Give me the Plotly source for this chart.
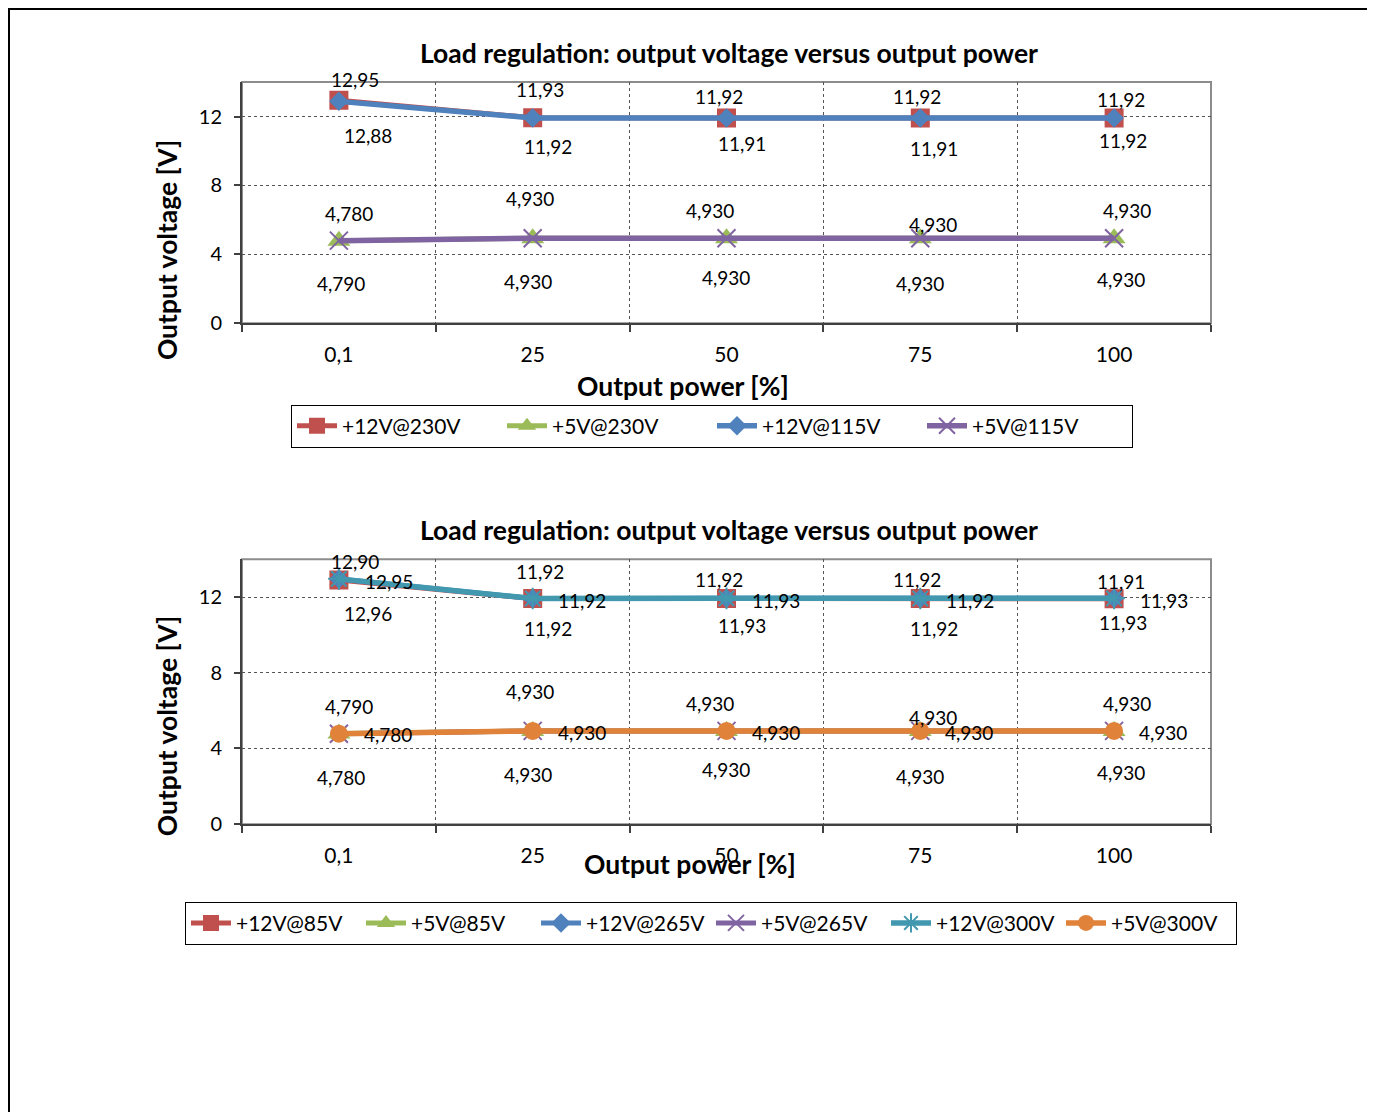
import plotly.graph_objects as go

categories = ["0,1", "25", "50", "75", "100"]

# Top chart series
v12_230 = [12.95, 11.93, 11.92, 11.92, 11.92]
v5_230 = [4.78, 4.93, 4.93, 4.93, 4.93]
v12_115 = [12.88, 11.92, 11.91, 11.91, 11.92]
v5_115 = [4.79, 4.93, 4.93, 4.93, 4.93]

# Bottom chart series
v12_85 = [12.90, 11.92, 11.92, 11.92, 11.91]
v5_85 = [4.79, 4.93, 4.93, 4.93, 4.93]
v12_265 = [12.95, 11.92, 11.93, 11.92, 11.93]
v5_265 = [4.78, 4.93, 4.93, 4.93, 4.93]
v12_300 = [12.96, 11.92, 11.93, 11.92, 11.93]
v5_300 = [4.78, 4.93, 4.93, 4.93, 4.93]

title_text = "Load regulation: output voltage versus output power"
x_title = "Output power [%]"
y_title = "Output voltage [V]"

FONT = "Lato"
RED = "#C0504D"
GREEN = "#9BBB59"
BLUE = "#4F81BD"
PURPLE = "#8064A2"
AQUA = "#4198AF"
ORANGE = "#E0823A"

# page offset (browser body margin) and vertical compensation
OFF = 8
SY = 0.99
W, H = 1367, 1120


def px_x(p):
    return (p - OFF) / W


def px_y(p):
    return 1 - (p / SY - OFF) / H


# label offsets (pixels) per series: (dx, dy up)
top_offsets = {
    "+12V@230V": ([16, 7, -8, -3, 7], [21, 28, 21, 21, 18]),
    "+5V@230V": ([10, -3, -17, 13, 13], [27, 40, 28, 14, 28]),
    "+12V@115V": ([29, 15, 15, 14, 9], [-34, -29, -25, -30, -23]),
    "+5V@115V": ([2, -5, -1, 0, 7], [-43, -43, -39, -45, -41]),
}
bot_offsets = {
    "+12V@85V": ([16, 7, -8, -3, 7], [19, 27, 19, 19, 17]),
    "+5V@85V": ([10, -3, -17, 13, 13], [27, 39, 27, 13, 27]),
    "+12V@265V": ([50, 49, 49, 50, 50], [-2, -2, -2, -2, -2]),
    "+5V@265V": ([49, 49, 49, 49, 49], [-1, -2, -2, -2, -2]),
    "+12V@300V": ([29, 15, 15, 14, 9], [-35, -30, -27, -30, -24]),
    "+5V@300V": ([2, -5, -1, 0, 7], [-44, -44, -39, -46, -42]),
}

mk_square = dict(symbol="square", size=19, color=RED)
mk_tri = dict(symbol="triangle-up", size=20, color=GREEN)
mk_diam = dict(symbol="diamond", size=15, color=BLUE)
mk_x = dict(symbol="x-thin-open", size=18, color=PURPLE, line=dict(width=2, color=PURPLE))
mk_ast = dict(symbol="asterisk-open", size=18, color=AQUA, line=dict(width=2, color=AQUA))
mk_circ = dict(symbol="circle", size=18, color=ORANGE)

series_top = [
    ("+12V@230V", v12_230, RED, mk_square, 5),
    ("+5V@230V", v5_230, GREEN, mk_tri, 5),
    ("+12V@115V", v12_115, BLUE, mk_diam, 5.5),
    ("+5V@115V", v5_115, PURPLE, mk_x, 5.5),
]
series_bot = [
    ("+12V@85V", v12_85, RED, mk_square, 5),
    ("+5V@85V", v5_85, GREEN, mk_tri, 5),
    ("+12V@265V", v12_265, BLUE, mk_diam, 5),
    ("+5V@265V", v5_265, PURPLE, mk_x, 5),
    ("+12V@300V", v12_300, AQUA, mk_ast, 5.5),
    ("+5V@300V", v5_300, ORANGE, mk_circ, 5.5),
]


def fmt(name, v):
    if name.startswith("+5V"):
        return f"{v:.3f}".replace(".", ",")
    return f"{v:.2f}".replace(".", ",")


fig = go.Figure()
annotations = []
LABEL_SIZE = 19

for group, xa, ya, leg, offs in [(series_top, "x", "y", "legend", top_offsets),
                                  (series_bot, "x2", "y2", "legend2", bot_offsets)]:
    for name, vals, col, mk, lw in group:
        fig.add_trace(go.Scatter(x=categories, y=vals, name=name, mode="lines+markers",
                                 line=dict(color=col, width=lw), marker=mk,
                                 xaxis=xa, yaxis=ya, legend=leg))
        o = offs[name]
        for i, v in enumerate(vals):
            annotations.append(dict(x=i, y=v, xref=xa, yref=ya, text=fmt(name, v),
                                    showarrow=False, xshift=o[0][i], yshift=o[1][i],
                                    font=dict(family=FONT, size=LABEL_SIZE, color="black")))

BOLD = 26.5
for ty, xty, xtx in [(53, 386, 683), (530, 864, 690)]:
    annotations.append(dict(x=px_x(729), y=px_y(ty), xref="paper", yref="paper",
                            text="<b>" + title_text + "</b>", showarrow=False,
                            xanchor="center", yanchor="middle",
                            font=dict(family=FONT, size=BOLD, color="black")))
    annotations.append(dict(x=px_x(xtx), y=px_y(xty), xref="paper", yref="paper",
                            text="<b>" + x_title + "</b>", showarrow=False,
                            xanchor="center", yanchor="middle",
                            font=dict(family=FONT, size=BOLD, color="black")))
for yc in [250, 726]:
    annotations.append(dict(x=px_x(167), y=px_y(yc), xref="paper", yref="paper",
                            text="<b>" + y_title + "</b>", showarrow=False,
                            xanchor="center", yanchor="middle", textangle=-90,
                            font=dict(family=FONT, size=BOLD, color="black")))

xdom = [px_x(242), px_x(1211)]
common_x = dict(type="category", categoryorder="array", categoryarray=categories,
                tickson="boundaries", showgrid=True, gridcolor="#555555", griddash="dot", gridwidth=1,
                showline=True, linecolor="#404040", linewidth=2, ticks="outside", ticklen=7,
                tickcolor="#404040", tickwidth=2, tickfont=dict(family=FONT, size=21, color="black"),
                ticklabelstandoff=12, range=[-0.5, 4.5], zeroline=False)
common_y = dict(range=[0, 14], tickvals=[0, 4, 8, 12], showgrid=True, gridcolor="#555555",
                griddash="dot", gridwidth=1, showline=True, linecolor="#404040", linewidth=2,
                ticks="outside", ticklen=6, tickcolor="#404040", tickwidth=2,
                tickfont=dict(family=FONT, size=20, color="black"), zeroline=False,
                ticklabelstandoff=8)

shapes = [
    dict(type="rect", xref="paper", yref="paper", x0=px_x(9), x1=px_x(1368), y0=-0.05, y1=0.999,
         line=dict(color="black", width=2), fillcolor="rgba(0,0,0,0)"),
    dict(type="rect", xref="x domain", yref="y domain", x0=0, x1=1, y0=0, y1=1,
         line=dict(color="#8C8C8C", width=2), layer="below"),
    dict(type="rect", xref="x2 domain", yref="y2 domain", x0=0, x1=1, y0=0, y1=1,
         line=dict(color="#8C8C8C", width=2), layer="below"),
]

fig.update_layout(
    width=W, height=H, autosize=False,
    margin=dict(l=0, r=0, t=0, b=0),
    paper_bgcolor="white", plot_bgcolor="white",
    font=dict(family=FONT, color="black"),
    xaxis=dict(domain=xdom, anchor="y", **common_x),
    yaxis=dict(domain=[px_y(323), px_y(82)], anchor="x", **common_y),
    xaxis2=dict(domain=xdom, anchor="y2", **common_x),
    yaxis2=dict(domain=[px_y(824), px_y(559)], anchor="x2", **common_y),
    legend=dict(orientation="h", x=px_x(712), y=px_y(426), xanchor="center", yanchor="middle",
                bordercolor="black", borderwidth=1, font=dict(family=FONT, size=21, color="black"),
                entrywidth=155, itemwidth=40, bgcolor="white"),
    legend2=dict(orientation="h", x=px_x(711), y=px_y(923), xanchor="center", yanchor="middle",
                 bordercolor="black", borderwidth=1, font=dict(family=FONT, size=21, color="black"),
                 entrywidth=120, itemwidth=40, bgcolor="white"),
    annotations=annotations,
    shapes=shapes,
    showlegend=True,
)

fig.write_html("out.html")
